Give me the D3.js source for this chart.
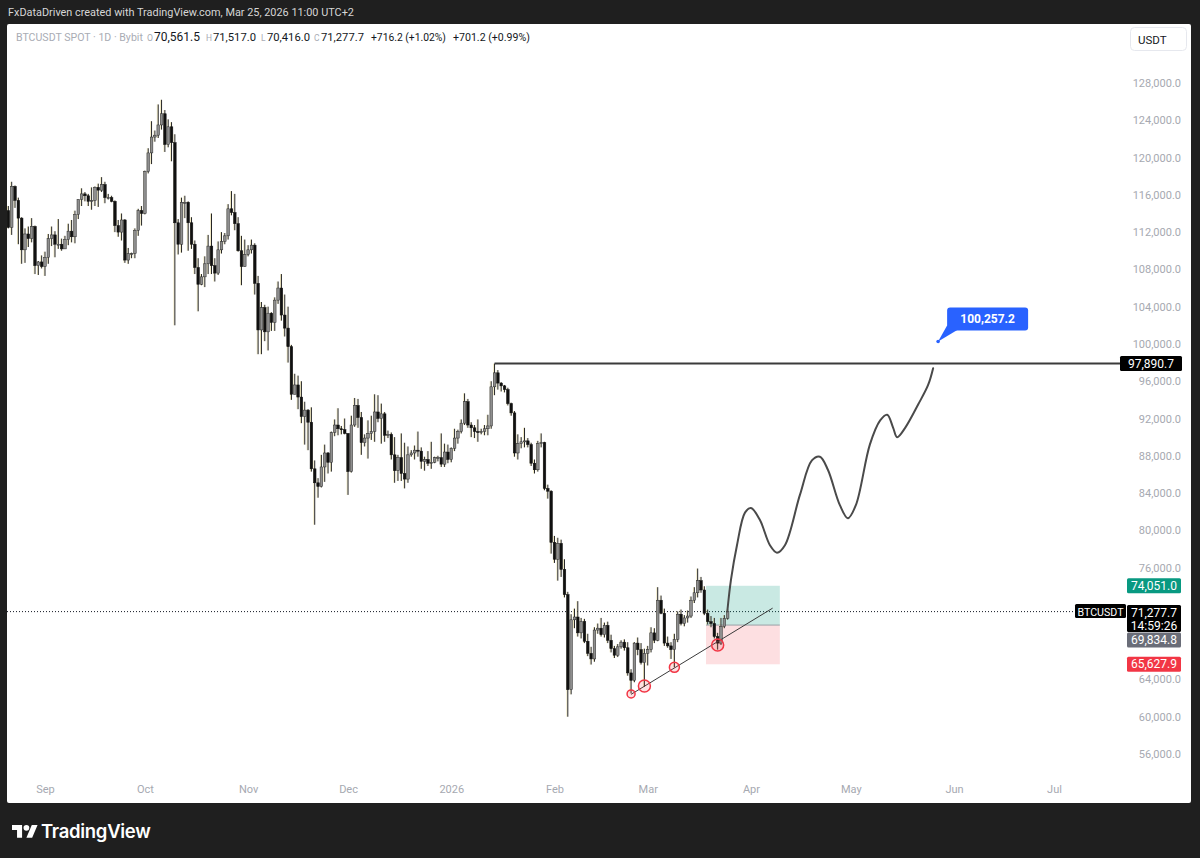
<!DOCTYPE html>
<html><head><meta charset="utf-8">
<script src="https://cdn.jsdelivr.net/npm/d3@7"></script>
<style>html,body{margin:0;padding:0;background:#1f1f1f;}svg{display:block;}</style>
</head><body><svg id="c" width="1200" height="858"></svg>
<script>
// ---- DATA (prices in thousands USDT, [open, high, low, close]) ----
const aug2025Start = "2025-08-21";
const candlesAug2025 = [
 [114.3,114.8,112.4,112.5],[112.5,117.4,111.7,116.9],[116.9,117.0,114.6,115.4],[115.4,115.7,110.7,113.5],
 [113.5,113.6,108.6,110.1],[110.1,112.4,108.7,111.8],[111.8,112.6,110.4,111.3],[111.3,113.5,110.9,112.6],
 [112.6,112.7,107.5,108.4],[108.4,108.9,107.4,108.8],[108.8,109.5,108.1,108.3]];
const candlesSep2025 = [
 [108.3,109.9,107.3,109.3],[109.3,111.8,108.6,111.3],[111.3,112.6,110.5,111.7],[111.7,112.1,109.3,110.7],
 [110.7,113.4,110.2,110.7],[110.7,111.3,110.0,110.2],[110.2,111.6,110.2,111.2],[111.2,112.9,110.6,112.1],
 [112.1,113.3,110.9,111.5],[111.5,114.3,110.8,113.9],[113.9,115.5,113.4,115.5],[115.5,116.7,114.8,116.1],
 [116.1,116.3,115.3,115.9],[115.9,116.1,114.8,115.3],[115.3,116.8,114.4,115.4],[115.4,116.9,114.8,116.8],
 [116.8,117.2,114.7,116.5],[116.5,117.9,116.3,117.1],[117.1,117.4,115.1,115.7],[115.7,116.1,115.5,115.7],
 [115.7,115.9,115.2,115.3],[115.3,115.4,112.0,112.7],[112.7,113.3,111.5,112.0],[112.0,114.0,111.1,113.3],
 [113.3,113.4,108.7,109.0],[109.0,110.3,108.6,109.7],[109.7,109.8,109.2,109.7],[109.7,112.4,109.2,112.2],
 [112.2,114.5,111.6,114.3],[114.3,114.8,112.7,114.0]];
const candlesOct2025 = [
 [114.0,118.6,113.9,118.5],[118.5,121.0,118.3,120.5],[120.5,123.9,119.3,122.2],[122.2,122.9,121.7,122.4],
 [122.4,125.7,122.1,123.5],[123.5,126.2,123.0,124.7],[124.7,125.1,120.6,121.4],[121.4,124.1,121.1,123.3],
 [123.3,123.8,119.6,121.6],[121.6,122.5,102.0,113.0],[113.0,113.4,109.6,110.7],[110.7,115.7,109.8,115.2],
 [115.2,115.9,113.5,115.2],[115.2,115.3,110.0,113.0],[113.0,113.6,110.2,110.7],[110.7,111.1,107.5,108.2],
 [108.2,109.2,103.5,106.4],[106.4,107.5,106.3,107.2],[107.2,109.4,106.1,108.6],[108.6,111.7,107.5,110.5],
 [110.5,114.0,107.5,108.4],[108.4,109.2,106.7,107.6],[107.6,111.0,107.4,110.1],[110.1,112.0,109.7,111.0],
 [111.0,111.9,110.7,111.6],[111.6,115.0,111.2,114.5],[114.5,116.4,113.8,114.1],[114.1,116.1,112.2,112.9],
 [112.9,113.6,109.9,110.0],[110.0,111.6,106.3,108.3],[108.3,111.2,108.3,109.6]];
const candlesNov2025 = [
 [109.6,110.6,109.4,110.1],[110.1,111.2,109.7,110.6],[110.6,110.8,105.3,106.5],[106.5,107.3,98.9,101.5],
 [101.5,104.5,98.9,103.9],[103.9,104.2,100.3,101.3],[101.3,104.0,99.3,103.3],[103.3,103.4,101.4,102.3],
 [102.3,105.0,101.4,104.7],[104.7,106.7,104.3,106.0],[106.0,107.5,102.5,103.1],[103.1,105.3,100.8,101.7],
 [101.7,104.0,98.0,99.7],[99.7,99.9,94.0,94.6],[94.6,96.8,94.6,95.6],[95.6,96.6,93.0,94.3],
 [94.3,96.0,91.5,92.2],[92.2,93.8,89.2,92.9],[92.9,93.0,88.6,91.6],[91.6,93.2,86.3,86.6],
 [86.6,87.5,80.6,85.1],[85.1,85.6,83.5,84.7],[84.7,88.1,84.6,86.8],[86.8,89.2,85.2,88.3],
 [88.3,88.4,86.1,87.3],[87.3,90.6,86.3,90.5],[90.5,91.9,90.1,91.3],[91.3,93.1,90.2,90.9],
 [90.9,91.2,90.3,90.8],[90.8,92.0,90.3,90.4]];
const candlesDec2025 = [
 [90.4,90.4,83.8,86.3],[86.3,92.3,86.2,91.3],[91.3,94.2,91.1,93.4],[93.4,94.1,91.0,92.1],
 [92.1,92.7,88.1,89.4],[89.4,90.3,89.0,89.9],[89.9,91.8,87.7,90.4],[90.4,92.3,89.7,90.6],
 [90.6,94.6,89.5,92.7],[92.7,94.5,91.6,92.0],[92.0,93.6,89.3,92.5],[92.5,92.7,89.5,90.2],
 [90.2,90.7,89.9,90.3],[90.3,90.5,87.6,88.1],[88.1,90.0,85.1,86.4],[86.4,88.1,85.3,87.8],
 [87.8,90.4,85.3,86.1],[86.1,89.4,84.5,85.5],[85.5,89.0,85.1,88.1],[88.1,88.6,87.9,88.3],
 [88.3,89.1,87.6,88.6],[88.6,90.6,87.9,88.5],[88.5,88.9,86.6,87.4],[87.4,87.9,86.4,87.6],
 [87.6,88.5,86.9,87.2],[87.2,89.5,86.6,87.3],[87.3,87.9,87.2,87.8],[87.8,88.0,87.4,87.8],
 [87.8,90.4,86.8,87.1],[87.1,89.3,86.8,88.4],[88.4,89.2,87.2,87.6]];
const candlesJan2026 = [
 [87.6,88.9,87.3,88.8],[88.8,90.9,88.5,89.9],[89.9,90.8,89.3,90.6],[90.6,91.9,90.4,91.5],
 [91.5,94.7,91.3,93.8],[93.8,94.1,91.0,91.3],[91.3,91.6,90.0,91.0],[91.0,91.3,89.9,90.6],
 [90.6,91.9,89.5,90.5],[90.5,90.9,90.3,90.6],[90.6,91.3,90.2,90.9],[90.9,92.4,90.2,91.2],
 [91.2,96.0,90.9,95.4],[95.4,97.8907,94.5,96.9],[96.9,97.2,95.1,95.8],[95.8,95.9,94.9,95.5],
 [95.5,95.6,94.8,95.1],[95.1,95.3,93.4,93.6],[93.6,93.7,92.3,92.6],[92.6,92.8,87.9,88.3],
 [88.3,90.3,87.6,89.3],[89.3,90.0,88.8,89.5],[89.5,91.0,88.9,89.6],[89.6,89.9,88.9,89.2],
 [89.2,89.4,86.9,87.2],[87.2,87.6,86.1,86.5],[86.5,89.6,86.3,89.3],[89.3,90.4,88.9,89.4],
 [89.4,89.5,84.3,84.5],[84.5,84.9,83.4,84.2],[84.2,84.3,77.5,78.7]];
const candlesFeb2026 = [
 [78.7,79.4,76.5,76.9],[76.9,79.2,74.6,78.6],[78.6,79.0,75.0,75.8],[75.8,76.9,72.8,73.1],
 [73.1,73.4,60.0,62.9],[62.9,71.0,62.4,70.4],[70.4,71.6,69.5,70.7],[70.7,72.4,68.6,69.0],
 [69.0,70.6,68.4,70.2],[70.2,70.5,67.9,68.1],[68.1,68.9,66.5,66.8],[66.8,67.5,65.6,66.2],
 [66.2,69.6,65.9,69.3],[69.3,70.0,68.9,69.5],[69.5,70.6,68.6,68.8],[68.8,70.1,68.5,69.8],
 [69.8,70.2,67.9,68.2],[68.2,68.8,66.9,67.3],[67.3,67.6,66.3,66.6],[66.6,67.8,66.4,67.5],
 [67.5,68.2,67.3,68.0],[68.0,68.3,67.1,67.4],[67.4,68.0,64.4,64.7],[64.7,65.1,62.5,63.9],
 [63.9,68.0,63.7,67.9],[67.9,68.5,66.6,67.2],[67.2,67.9,65.6,65.8],[65.8,67.3,63.2,66.8]];
const candlesMar2026 = [
 [66.8,67.6,65.5,67.2],[67.2,69.6,66.9,69.0],[69.0,69.5,67.9,68.2],[68.2,73.9,68.1,72.5],
 [72.5,73.0,71.0,71.1],[71.1,71.6,67.6,67.9],[67.9,68.6,67.4,67.6],[67.6,68.0,66.2,67.2],
 [67.2,68.9,65.3,68.3],[68.3,71.3,68.0,71.0],[71.0,71.5,69.8,70.0],[70.0,70.9,69.7,70.6],
 [70.6,71.4,70.1,70.8],[70.8,72.9,70.6,72.5],[72.5,73.9,72.2,73.3],[73.3,75.9,72.8,74.6],
 [74.6,75.0,73.3,73.6],[73.6,74.0,70.9,71.1],[71.1,71.5,69.9,70.2],[70.2,70.8,69.6,70.0],
 [70.0,70.6,68.4,68.6],[68.6,69.0,67.2,67.9],[67.9,70.6,67.7,69.7],[69.7,70.9,69.5,70.5615],
 [70.5615,71.517,70.416,71.2777]];

const priceTicks = [56000,60000,64000,68000,72000,76000,80000,84000,88000,92000,96000,100000,104000,108000,112000,116000,120000,124000,128000];
const monthTicks = ["2025-09-01","2025-10-01","2025-11-01","2025-12-01","2026-01-01","2026-02-01","2026-03-01","2026-04-01","2026-05-01","2026-06-01","2026-07-01"];
const monthLabels = ["Sep","Oct","Nov","Dec","2026","Feb","Mar","Apr","May","Jun","Jul"];

const lastClose = 71277.7;
const highLevel = 97890.7;
const highDate = "2026-01-14";
const targetPrice = 74051.0, entryPrice = 69834.8, stopPrice = 65627.9;
const positionDates = ["2026-03-18T12:00Z","2026-04-09T16:00Z"];
const trendDates = ["2026-02-24T00:00Z","2026-04-07T12:00Z"];
const trendPrices = [62400, 71650];
const circleDates = ["2026-02-24T00:00Z","2026-02-28T00:00Z","2026-03-09T00:00Z","2026-03-22T00:00Z"];
const circlePrices = [62450, 63300, 65300, 67700];
const circleRadii = [4, 6, 5, 6];
// projection path: days after last candle, price
const projDays = [-0.1,1.0,2.8,5.2,7.0,9.7,12.7,14.8,17.2,21.7,25.3,27.7,30.1,33.7,36.1,38.5,42.7,45.8,47.9,49.7,50.9,53.3,57.2,60.2,61.7];
const projPrices = [71300,74700,78400,81900,82400,81100,78400,77600,78400,83800,87500,87900,86500,82700,81300,82700,89200,91800,92400,91000,90000,91000,93500,95600,97400];
const calloutDays = 63.2, calloutPrice = 100257.2;

// ---- BUILD ----
const monthSets = [[aug2025Start,candlesAug2025],["2025-09-01",candlesSep2025],["2025-10-01",candlesOct2025],["2025-11-01",candlesNov2025],["2025-12-01",candlesDec2025],["2026-01-01",candlesJan2026],["2026-02-01",candlesFeb2026],["2026-03-01",candlesMar2026]];
const candles = [];
monthSets.forEach(([start, arr]) => {
  const s = new Date(start + "T00:00:00Z");
  arr.forEach((v, i) => candles.push({date: d3.utcDay.offset(s, i), o: v[0]*1000, h: v[1]*1000, l: v[2]*1000, c: v[3]*1000}));
});
const lastDate = candles[candles.length-1].date;

const x = d3.scaleUtc().domain([new Date("2025-09-01T00:00:00Z"), new Date("2026-07-01T00:00:00Z")]).range([45, 1054]);
const y = d3.scaleLinear().domain([56000, 128000]).range([754, 83]);
const F = "Roboto, 'Open Sans', Arial, sans-serif";

const svg = d3.select("#c");
svg.append("rect").attr("width",1200).attr("height",858).attr("fill","#1f1f1f");

// fit a text to a target width by choosing its font size
function fitText(sel, w, base){
  const n = sel.node().getComputedTextLength();
  sel.attr("font-size", (base * w / n).toFixed(2));
}
fitText(svg.append("text").attr("x",8).attr("y",16).attr("font-family",F).attr("font-size",12).attr("fill","#d6d6d6")
  .text("FxDataDriven created with TradingView.com, Mar 25, 2026 11:00 UTC+2"), 346, 12);
svg.append("rect").attr("x",7).attr("y",24).attr("width",1184).attr("height",779).attr("rx",2).attr("fill","#ffffff");

// symbol line
const sym = [
  {t:"BTCUSDT SPOT · 1D · Bybit", x:16, w:127, c:"#a9acb4"},
  {t:"O", x:147, w:6, c:"#a9acb4"},{t:"70,561.5", x:154, w:46, c:"#131722"},
  {t:"H", x:206, w:6, c:"#a9acb4"},{t:"71,517.0", x:213, w:43, c:"#131722"},
  {t:"L", x:261, w:4.5, c:"#a9acb4"},{t:"70,416.0", x:267, w:43, c:"#131722"},
  {t:"C", x:314, w:5.5, c:"#a9acb4"},{t:"71,277.7", x:321, w:43, c:"#131722"},
  {t:"+716.2 (+1.02%)", x:371, w:75, c:"#131722"},
  {t:"+701.2 (+0.99%)", x:453, w:77, c:"#131722"}];
sym.forEach(d => {
  const t = svg.append("text").attr("x",d.x).attr("y",41).attr("font-family",F).attr("font-size",12).attr("fill",d.c).text(d.t);
  const n = t.node().getComputedTextLength();
  t.attr("font-size", Math.min(12.5, 12*d.w/n).toFixed(2));
});

// USDT button
svg.append("rect").attr("x",1130.5).attr("y",27.5).attr("width",56).attr("height",23).attr("rx",4)
  .attr("fill","#fff").attr("stroke","#e6e8ee");
svg.append("text").attr("x",1138).attr("y",43.5).attr("font-family",F).attr("font-size",11.5).attr("fill","#131722").text("USDT");

// axis price labels that sit under the coloured price tags are hidden (as in the chart)
const tagSpans = [[y(lastClose)-8, y(lastClose)+21], [633, 647]];
const visibleTicks = priceTicks.filter(p => !tagSpans.some(([a,b]) => y(p)+6 > a && y(p)-6 < b));

// price axis
const yAxis = d3.axisRight(y).tickValues(visibleTicks).tickSize(0).tickPadding(0)
  .tickFormat(d => d3.format(",.1f")(d));
const yg = svg.append("g").attr("transform","translate(1181,0)").call(yAxis);
yg.select(".domain").remove();
yg.selectAll("text").attr("text-anchor","end").attr("x",0).attr("font-family",F).attr("font-size",11).attr("fill","#a6a9b1");

// time axis
const xAxis = d3.axisBottom(x).tickValues(monthTicks.map(s=>new Date(s+"T00:00:00Z"))).tickSize(0).tickPadding(0)
  .tickFormat((d,i)=>monthLabels[i]);
const xg = svg.append("g").attr("transform","translate(0,785.5)").call(xAxis);
xg.select(".domain").remove();
xg.selectAll("text").attr("font-family",F).attr("font-size",11).attr("fill","#a6a9b1").attr("dy","0.71em");

// plot clip
svg.append("clipPath").attr("id","plot").append("rect").attr("x",7).attr("y",24).attr("width",1113).attr("height",750);
const plot = svg.append("g").attr("clip-path","url(#plot)");

// current price dotted line
plot.append("line").attr("x1",7).attr("x2",1076).attr("y1",y(lastClose)).attr("y2",y(lastClose))
  .attr("stroke","#131722").attr("stroke-width",1).attr("stroke-dasharray","1,2");

// position tool
const px0 = x(new Date(positionDates[0])), px1 = x(new Date(positionDates[1]));
plot.append("rect").attr("x",px0).attr("width",px1-px0).attr("y",y(targetPrice)).attr("height",y(entryPrice)-y(targetPrice))
  .attr("fill","rgba(8,153,129,0.22)");
plot.append("rect").attr("x",px0).attr("width",px1-px0).attr("y",y(entryPrice)).attr("height",y(stopPrice)-y(entryPrice))
  .attr("fill","rgba(242,54,69,0.16)");
plot.append("line").attr("x1",px0).attr("x2",px1).attr("y1",y(entryPrice)).attr("y2",y(entryPrice))
  .attr("stroke","#9aa0a6").attr("stroke-width",1);

// horizontal high line
plot.append("line").attr("x1",x(new Date(highDate+"T00:00:00Z"))).attr("x2",1120).attr("y1",y(highLevel)).attr("y2",y(highLevel))
  .attr("stroke","#3b3b3b").attr("stroke-width",2);

// candles
const cg = plot.append("g");
const bw = 2.6;
cg.selectAll("line.wy").data(candles).join("line").attr("class","wy")
  .attr("x1",d=>x(d.date)-0.9).attr("x2",d=>x(d.date)-0.9).attr("y1",d=>y(d.h)).attr("y2",d=>y(d.l))
  .attr("stroke","#e9dc9c").attr("stroke-width",0.8).attr("opacity",0.8);
cg.selectAll("line.w").data(candles).join("line").attr("class","w")
  .attr("x1",d=>x(d.date)).attr("x2",d=>x(d.date)).attr("y1",d=>y(d.h)).attr("y2",d=>y(d.l))
  .attr("stroke","#262626").attr("stroke-width",1);
cg.selectAll("rect").data(candles).join("rect")
  .attr("x",d=>x(d.date)-bw/2).attr("width",bw)
  .attr("y",d=>y(Math.max(d.o,d.c))).attr("height",d=>Math.max(1,Math.abs(y(d.o)-y(d.c))))
  .attr("fill",d=>d.c>=d.o?"#8e8e8e":"#111111").attr("stroke",d=>d.c>=d.o?"#2a2a2a":"#111").attr("stroke-width",0.5);

// trend line
plot.append("line").attr("x1",x(new Date(trendDates[0]))).attr("y1",y(trendPrices[0]))
  .attr("x2",x(new Date(trendDates[1]))).attr("y2",y(trendPrices[1])).attr("stroke","#3a3a3a").attr("stroke-width",1);
// circles
plot.selectAll("circle.m").data(circleDates.map((d,i)=>({d:new Date(d),p:circlePrices[i],r:circleRadii[i]}))).join("circle")
  .attr("class","m").attr("cx",d=>x(d.d)).attr("cy",d=>y(d.p)).attr("r",d=>d.r)
  .attr("fill","rgba(242,54,69,0.15)").attr("stroke","#f23645").attr("stroke-width",1.5);

// projection curve
const proj = projDays.map((dd,i)=>({date:new Date(lastDate.getTime()+dd*864e5), p:projPrices[i]}));
plot.append("path").attr("d", d3.line().x(d=>x(d.date)).y(d=>y(d.p)).curve(d3.curveCatmullRom.alpha(0.5))(proj))
  .attr("fill","none").attr("stroke","#4a4a4a").attr("stroke-width",2).attr("stroke-linecap","round");

// callout
const cx0 = x(new Date(lastDate.getTime()+calloutDays*864e5)), cy0 = y(calloutPrice);
const cg2 = plot.append("g");
cg2.append("path").attr("d",`M${cx0},${cy0} L${cx0+9},${cy0-16} L${cx0+20},${cy0-12} Z`).attr("fill","#2962ff");
cg2.append("rect").attr("x",cx0+9).attr("y",cy0-34).attr("width",81).attr("height",23).attr("rx",3).attr("fill","#2962ff");
cg2.append("circle").attr("cx",cx0).attr("cy",cy0).attr("r",1.8).attr("fill","#2962ff");
cg2.append("text").attr("x",cx0+49.5).attr("y",cy0-18.5).attr("text-anchor","middle").attr("font-family",F)
  .attr("font-weight",700).attr("font-size",12).attr("fill","#fff").text(d3.format(",.1f")(calloutPrice));

// price labels on axis
function label(yc, h, fill, lines, x0=1127, w=54){
  svg.append("rect").attr("x",x0).attr("y",yc-h/2).attr("width",w).attr("height",h).attr("rx",1.5).attr("fill",fill);
  lines.forEach((t,i)=>svg.append("text").attr("x",x0+w/2).attr("y",yc - h/2 + 11.5 + i*13)
    .attr("text-anchor","middle").attr("font-family",F).attr("font-size",12).attr("fill","#fff").text(t));
}
label(y(highLevel), 15, "#000000", [d3.format(",.1f")(highLevel)], 1120, 62);
label(y(targetPrice), 15, "#089981", [d3.format(",.1f")(targetPrice)]);
label(y(lastClose)+7, 27, "#000000", [d3.format(",.1f")(lastClose), "14:59:26"]);
label(640, 15, "#6a6d78", [d3.format(",.1f")(entryPrice)]);
label(y(stopPrice), 15, "#f23645", [d3.format(",.1f")(stopPrice)]);
// symbol tag
svg.append("rect").attr("x",1075).attr("y",y(lastClose)-7.5).attr("width",51).attr("height",14).attr("rx",1.5).attr("fill","#000");
fitText(svg.append("text").attr("x",1100.5).attr("y",y(lastClose)+4.3).attr("text-anchor","middle").attr("font-family",F).attr("font-size",11).attr("fill","#fff")
  .text("BTCUSDT"), 46, 11);

// TradingView logo
const lg = svg.append("g").attr("transform","translate(12,822) scale(0.72)").attr("fill","#ffffff");
lg.append("path").attr("d","M14 22H7V11H0V4h14v18zM28 22h-8l7.5-18h8L28 22z");
lg.append("circle").attr("cx",20).attr("cy",8).attr("r",4);
svg.append("text").attr("x",41).attr("y",838).attr("font-family","Inter, Roboto, sans-serif").attr("font-weight",600)
  .attr("font-size",18.5).attr("fill","#ffffff").attr("letter-spacing","-0.3").text("TradingView");
</script></body></html>
